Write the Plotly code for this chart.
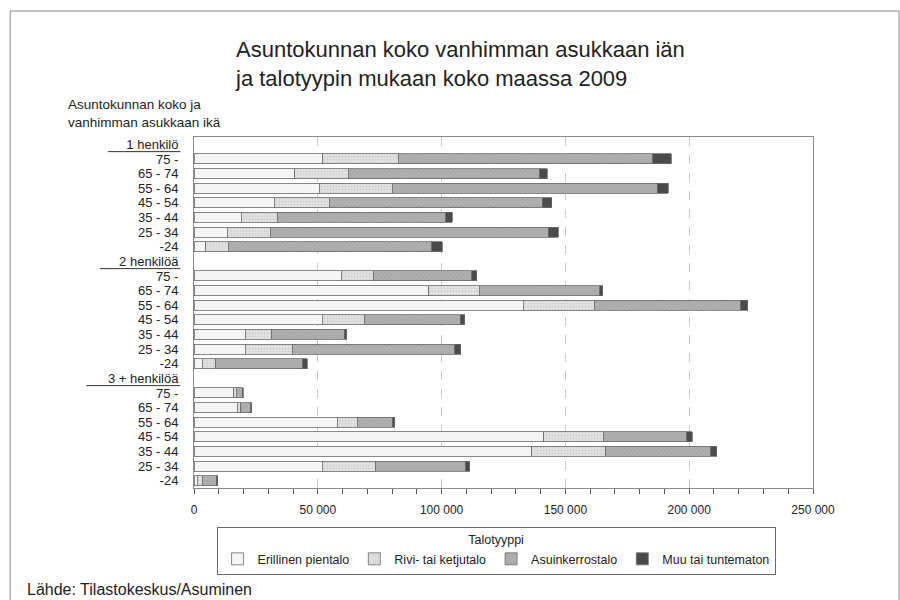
## stacked bars: household size by age of oldest resident and building type, Finland 2009

import plotly.graph_objects as go

groups = ["1 henkilö", "2 henkilöä", "3 + henkilöä"]
ages = ["75 -", "65 - 74", "55 - 64", "45 - 54", "35 - 44", "25 - 34", "-24"]

# values per group, in the order of ages (households)
erillinen = [
    [52000, 40600, 50600, 32500, 19000, 13400, 4800],
    [59400, 94800, 132900, 51800, 20700, 20700, 3300],
    [16000, 17400, 57900, 141300, 136500, 51800, 1300],
]
rivi = [
    [30400, 21700, 29400, 22100, 14700, 17400, 9000],
    [13000, 20400, 28900, 16900, 10800, 18900, 5400],
    [1000, 1400, 8000, 24000, 29800, 21600, 2000],
]
kerros = [
    [102900, 77100, 107000, 86000, 67900, 112300, 82300],
    [39800, 48700, 59000, 38800, 29200, 65800, 35200],
    [2400, 4100, 14300, 33800, 42500, 36100, 5600],
]
muu = [
    [7500, 3200, 4500, 3900, 2700, 4000, 4100],
    [1900, 1200, 2900, 1900, 900, 2400, 1900],
    [500, 500, 800, 2200, 2300, 1800, 600],
]

series_names = ["Erillinen pientalo", "Rivi- tai ketjutalo", "Asuinkerrostalo", "Muu tai tuntematon"]
series_values = [erillinen, rivi, kerros, muu]

# build row layout: a header row per group followed by the age rows
tick_pos, tick_text, bar_pos = [], [], []
row = 0
header_rows = []
for g in groups:
    tick_pos.append(row)
    tick_text.append(g)
    header_rows.append(row)
    row += 1
    for a in ages:
        tick_pos.append(row)
        tick_text.append(a)
        bar_pos.append(row)
        row += 1

styles = [
    dict(color="#f5f5f5", pattern=None),
    dict(color="#dcdcdc", pattern=dict(shape=".", fgcolor="#b8b8b8", bgcolor="#e2e2e2", size=3, solidity=0.3)),
    dict(color="#a3a3a3", pattern=dict(shape="x", fgcolor="#7a7a7a", bgcolor="#b0b0b0", size=3, solidity=0.2)),
    dict(color="#4b4b4b", pattern=None),
]

fig = go.Figure()
for name, vals, st in zip(series_names, series_values, styles):
    flat = [v for grp in vals for v in grp]
    marker = dict(color=st["color"], line=dict(color="#6a6a6a", width=0.8))
    if st["pattern"]:
        marker["pattern"] = st["pattern"]
    fig.add_trace(go.Bar(
        x=flat, y=bar_pos, name=name, orientation="h",
        width=0.68, marker=marker,
    ))

font = "Liberation Sans, Arial, sans-serif"

# underline the group headers
underline_x0 = [-0.139, -0.152, -0.174]
shapes = []
for r, x0 in zip(header_rows, underline_x0):
    shapes.append(dict(type="line", xref="paper", yref="y", x0=x0, x1=-0.022,
                       y0=r + 0.5, y1=r + 0.5, line=dict(color="#333", width=1)))
# outer frame (open at the bottom)
for x0, y0, x1, y1 in [(-0.297, -0.4, -0.297, 1.359), (-0.297, 1.359, 1.139, 1.359),
                       (1.139, 1.359, 1.139, -0.4)]:
    shapes.append(dict(type="line", xref="paper", yref="paper", x0=x0, y0=y0, x1=x1, y1=y1,
                       line=dict(color="#8a8a8a", width=1)))

fig.update_layout(
    barmode="stack",
    width=900, height=600,
    margin=dict(l=194, r=87, t=137, b=112),
    paper_bgcolor="white", plot_bgcolor="white",
    font=dict(family=font, size=12, color="#222"),
    separators=", ",
    title=dict(
        text="Asuntokunnan koko vanhimman asukkaan iän<br>ja talotyypin mukaan koko maassa 2009",
        x=236 / 900, xanchor="left", y=1 - 57 / 600, yanchor="top",
        font=dict(size=22, color="#222", family=font),
    ),
    xaxis=dict(
        range=[0, 250000], dtick=50000, tickformat=",d",
        showgrid=True, gridcolor="#c8c8c8", griddash="dash", gridwidth=1,
        ticks="outside", ticklen=5, tickcolor="#555", ticklabelstandoff=6,
        minor=dict(dtick=10000, ticks="outside", ticklen=5, tickcolor="#555", showgrid=False),
        showline=True, linecolor="#8a8a8a", linewidth=1, mirror=True,
        zeroline=False, tickfont=dict(size=12, color="#222"),
    ),
    yaxis=dict(
        tickmode="array", tickvals=tick_pos, ticktext=tick_text,
        range=[len(tick_pos) - 0.5, -0.5],
        showgrid=False, zeroline=False, ticks="", ticklabelstandoff=12,
        showline=True, linecolor="#8a8a8a", linewidth=1, mirror=True,
        tickfont=dict(size=13, color="#222"),
    ),
    legend=dict(
        orientation="h", x=0.488, xanchor="center", y=-0.111, yanchor="top",
        title=dict(text="Talotyyppi", side="top center", font=dict(size=12.5)),
        bordercolor="#6a6a6a", borderwidth=1, font=dict(size=12.5),
        itemwidth=30, traceorder="normal", tracegroupgap=0,
    ),
    shapes=shapes,
    annotations=[
        dict(text="Asuntokunnan koko ja<br>vanhimman asukkaan ikä", xref="paper", yref="paper",
             x=-0.206, y=1.015, xanchor="left", yanchor="bottom", align="left",
             showarrow=False, font=dict(size=13.5, color="#222")),
        dict(text="Lähde: Tilastokeskus/Asuminen", xref="paper", yref="paper",
             x=-0.273, y=-0.29, xanchor="left", yanchor="middle", align="left",
             showarrow=False, font=dict(size=16, color="#222")),
    ],
)

# drop the default page margin so the chart sits at the window's top-left corner
fig.write_html("out.html", config={"displayModeBar": False},
               post_script="document.body.style.margin='0px';")
